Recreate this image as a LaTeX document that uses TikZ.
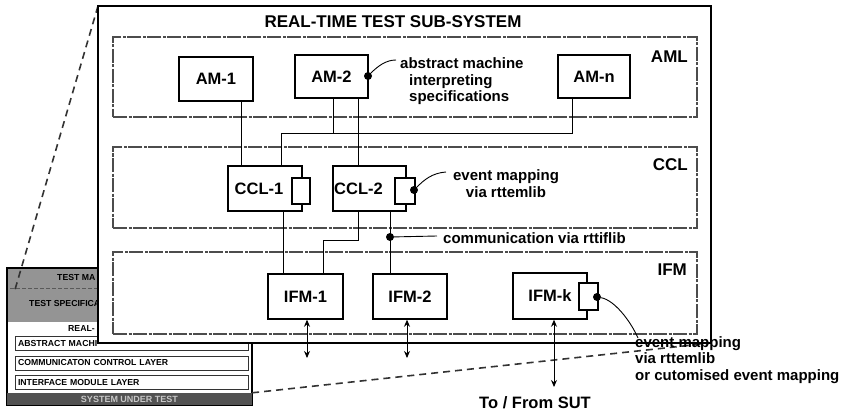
\documentclass[tikz,border=0pt]{standalone}
\usepackage{fontspec}
\setmainfont{Liberation Sans}
\usetikzlibrary{arrows.meta}
\begin{document}
\begin{tikzpicture}[x=1pt,y=-1pt,
  box/.style={draw=black, line width=1.5pt, fill=white, minimum width=74pt, minimum height=45pt, inner sep=0pt, font=\fontsize{16.5}{18}\selectfont\bfseries},
  port/.style={draw=black, line width=1.3pt, fill=white, minimum width=18pt, minimum height=26pt, inner sep=0pt},
  layer/.style={draw=black!70, line width=1.1pt, dash pattern=on 14pt off 1.5pt on 3pt off 1.5pt, inner sep=0pt},
  layerlabel/.style={anchor=east, font=\fontsize{17}{20}\selectfont\bfseries, inner sep=0pt},
  note/.style={font=\fontsize{15}{16.5}\selectfont\bfseries, inner sep=0pt, align=left},
  wire/.style={line width=0.9pt},
  dot/.style={circle, fill=black, minimum size=8pt, inner sep=0pt},
  zoomline/.style={line width=1.6pt, dash pattern=on 7pt off 5pt, black!80},
  insettext/.style={font=\fontsize{8.7}{9}\selectfont\bfseries, inner sep=0pt},
  row/.style={draw=black!80, line width=0.9pt, minimum width=233pt, minimum height=14pt, inner sep=0pt, text width=227pt, align=left, font=\fontsize{8.7}{9}\selectfont\bfseries},
  dblarrow/.style={line width=0.9pt, {Stealth[length=7pt,width=6pt]}-{Stealth[length=7pt,width=6pt]}}
]
\useasboundingbox (0,0) rectangle (847,417);
\fill[white] (0,0) rectangle (847,417);

% ---------- inset (overview) ----------
\node[draw=black, line width=1.2pt, fill=white, minimum width=245pt, minimum height=137pt, inner sep=0pt] (inset) at (129.5,336.5) {};
\fill[black!42] (7.6,268.6) rectangle (251.4,322);
\draw[black!65, dash pattern=on 4pt off 2pt, line width=1pt] (10,288) -- (250,288);
\node[insettext, anchor=west] (tm) at (57,278) {TEST MA};
\node[insettext, anchor=west] (ts) at (29,304) {TEST SPECIFICA};
\node[insettext, anchor=west] (rl) at (68,328.5) {REAL-};
\node[row] (r1) at (131.5,343.5) {ABSTRACT MACHI};
\node[row] (r2) at (131.5,363) {COMMUNICATON CONTROL LAYER};
\node[row] (r3) at (131.5,382.5) {INTERFACE MODULE LAYER};
\node[fill=black!68, minimum width=245pt, minimum height=12pt, inner sep=0pt, text=black!22, font=\fontsize{9}{10}\selectfont\bfseries] (sut) at (129.5,399) {SYSTEM UNDER TEST};

% ---------- zoom lines ----------
\coordinate (otl) at (98,6);
\coordinate (obr) at (711,343);
\coordinate (zA) at (14,293);
\draw[zoomline] (otl) -- (zA);
\draw[zoomline] (sut.north east) -- (obr);

% ---------- main sub-system ----------
\node[draw=black, line width=1.5pt, fill=white, minimum width=613pt, minimum height=337pt, inner sep=0pt] (outer) at (404.5,174.5) {};
\node[font=\fontsize{17}{20}\selectfont\bfseries, inner sep=0pt] (title) at (393,22) {REAL-TIME TEST SUB-SYSTEM};

\node[layer, minimum width=584pt, minimum height=80pt] (aml) at (405,77) {};
\node[layer, minimum width=584pt, minimum height=81pt] (ccl) at (405,187.5) {};
\node[layer, minimum width=584pt, minimum height=82pt] (ifm) at (405,293) {};
\node[layerlabel] (amllab) at (688,57) {AML};
\node[layerlabel] (ccllab) at (688,165) {CCL};
\node[layerlabel] (ifmlab) at (687,270) {IFM};

% AML boxes
\node[box, minimum height=44pt] (am1) at (216,79) {AM-1};
\node[box, minimum width=73pt, minimum height=43pt] (am2) at (331.5,76.5) {AM-2};
\node[box, minimum width=72pt, minimum height=43pt] (amn) at (594,76.5) {AM-n};

% CCL boxes
\node[box] (ccl1) at (265,188.5) {CCL-1\hspace*{12pt}};
\node[port] (ccl1port) at (301,191) {};
\node[box, minimum width=73pt] (ccl2) at (369.5,188.5) {CCL-2\hspace*{22pt}};
\node[port, minimum width=20pt] (ccl2port) at (405,191) {};

% IFM boxes
\node[box, minimum width=75pt] (ifm1) at (305.5,296.5) {IFM-1};
\node[box] (ifm2) at (410,296.5) {IFM-2};
\node[box, minimum height=46pt] (ifmk) at (550,296) {IFM-k};
\node[port, minimum width=19pt, minimum height=27pt] (ifmkport) at (588.5,296.5) {};

% connectors
\coordinate (x241) at (241,0);
\coordinate (x283) at (283,0);
\coordinate (x333) at (333,0);
\coordinate (x358) at (358,0);
\coordinate (x390) at (390,0);
\coordinate (x572) at (572,0);
\coordinate (busL) at (281,133);
\coordinate (bend) at (323,240);
\draw[wire] (am1.south -| x241) -- (ccl1.north -| x241);
\draw[wire] (amn.south -| x572) |- (busL) -- (ccl1.north -| busL);
\draw[wire] (am2.south -| x333) -- (x333 |- busL);
\draw[wire] (am2.south -| x358) -- (ccl2.north -| x358);
\draw[wire] (ccl1.south -| x283) -- (ifm1.north -| x283);
\draw[wire] (ccl2.south -| x358) |- (bend) -- (ifm1.north -| bend);
\draw[wire] (ccl2.south -| x390) -- (ifm2.north -| x390);

% to / from SUT
\coordinate (e1) at (307,358);
\coordinate (e2) at (407,358);
\coordinate (ek) at (554,387);
\draw[dblarrow] (ifm1.south -| e1) -- (e1);
\draw[dblarrow] (ifm2.south -| e2) -- (e2);
\draw[dblarrow] (ifmk.south -| ek) -- (ek);
\node[font=\fontsize{16.5}{18}\selectfont\bfseries, inner sep=0pt] (sutlab) at (535,403) {To / From SUT};

% annotations
\node[dot] (d1) at (368,76) {};
\coordinate (n1) at (396,60);
\draw[wire] (d1) .. controls (378,66) and (386,60) .. (n1);
\node[note, anchor=west] (absnote) at (400,81.5) {abstract machine\\\hspace*{9pt}interpreting\\\hspace*{9pt}specifications};

\node[dot] (d2) at (414,190) {};
\coordinate (n2) at (446,172);
\draw[wire] (d2) .. controls (424,180) and (432,173) .. (n2);
\node[note, align=center] (evnote) at (506,183.5) {event mapping\\via rttemlib};

\node[dot] (d3) at (390,237) {};
\coordinate (n3) at (437,236);
\draw[wire] (d3) -- (n3);
\node[note, anchor=west] (comnote) at (443,238) {communication via rttiflib};

\node[dot] (d4) at (597,297) {};
\coordinate (n4) at (638,338);
\draw[wire] (d4) .. controls (614,300) and (630,320) .. (n4);
\node[note, anchor=west] (ifmnote) at (635,360) {event mapping\\via rttemlib\\or cutomised event mapping};
\end{tikzpicture}
\end{document}
